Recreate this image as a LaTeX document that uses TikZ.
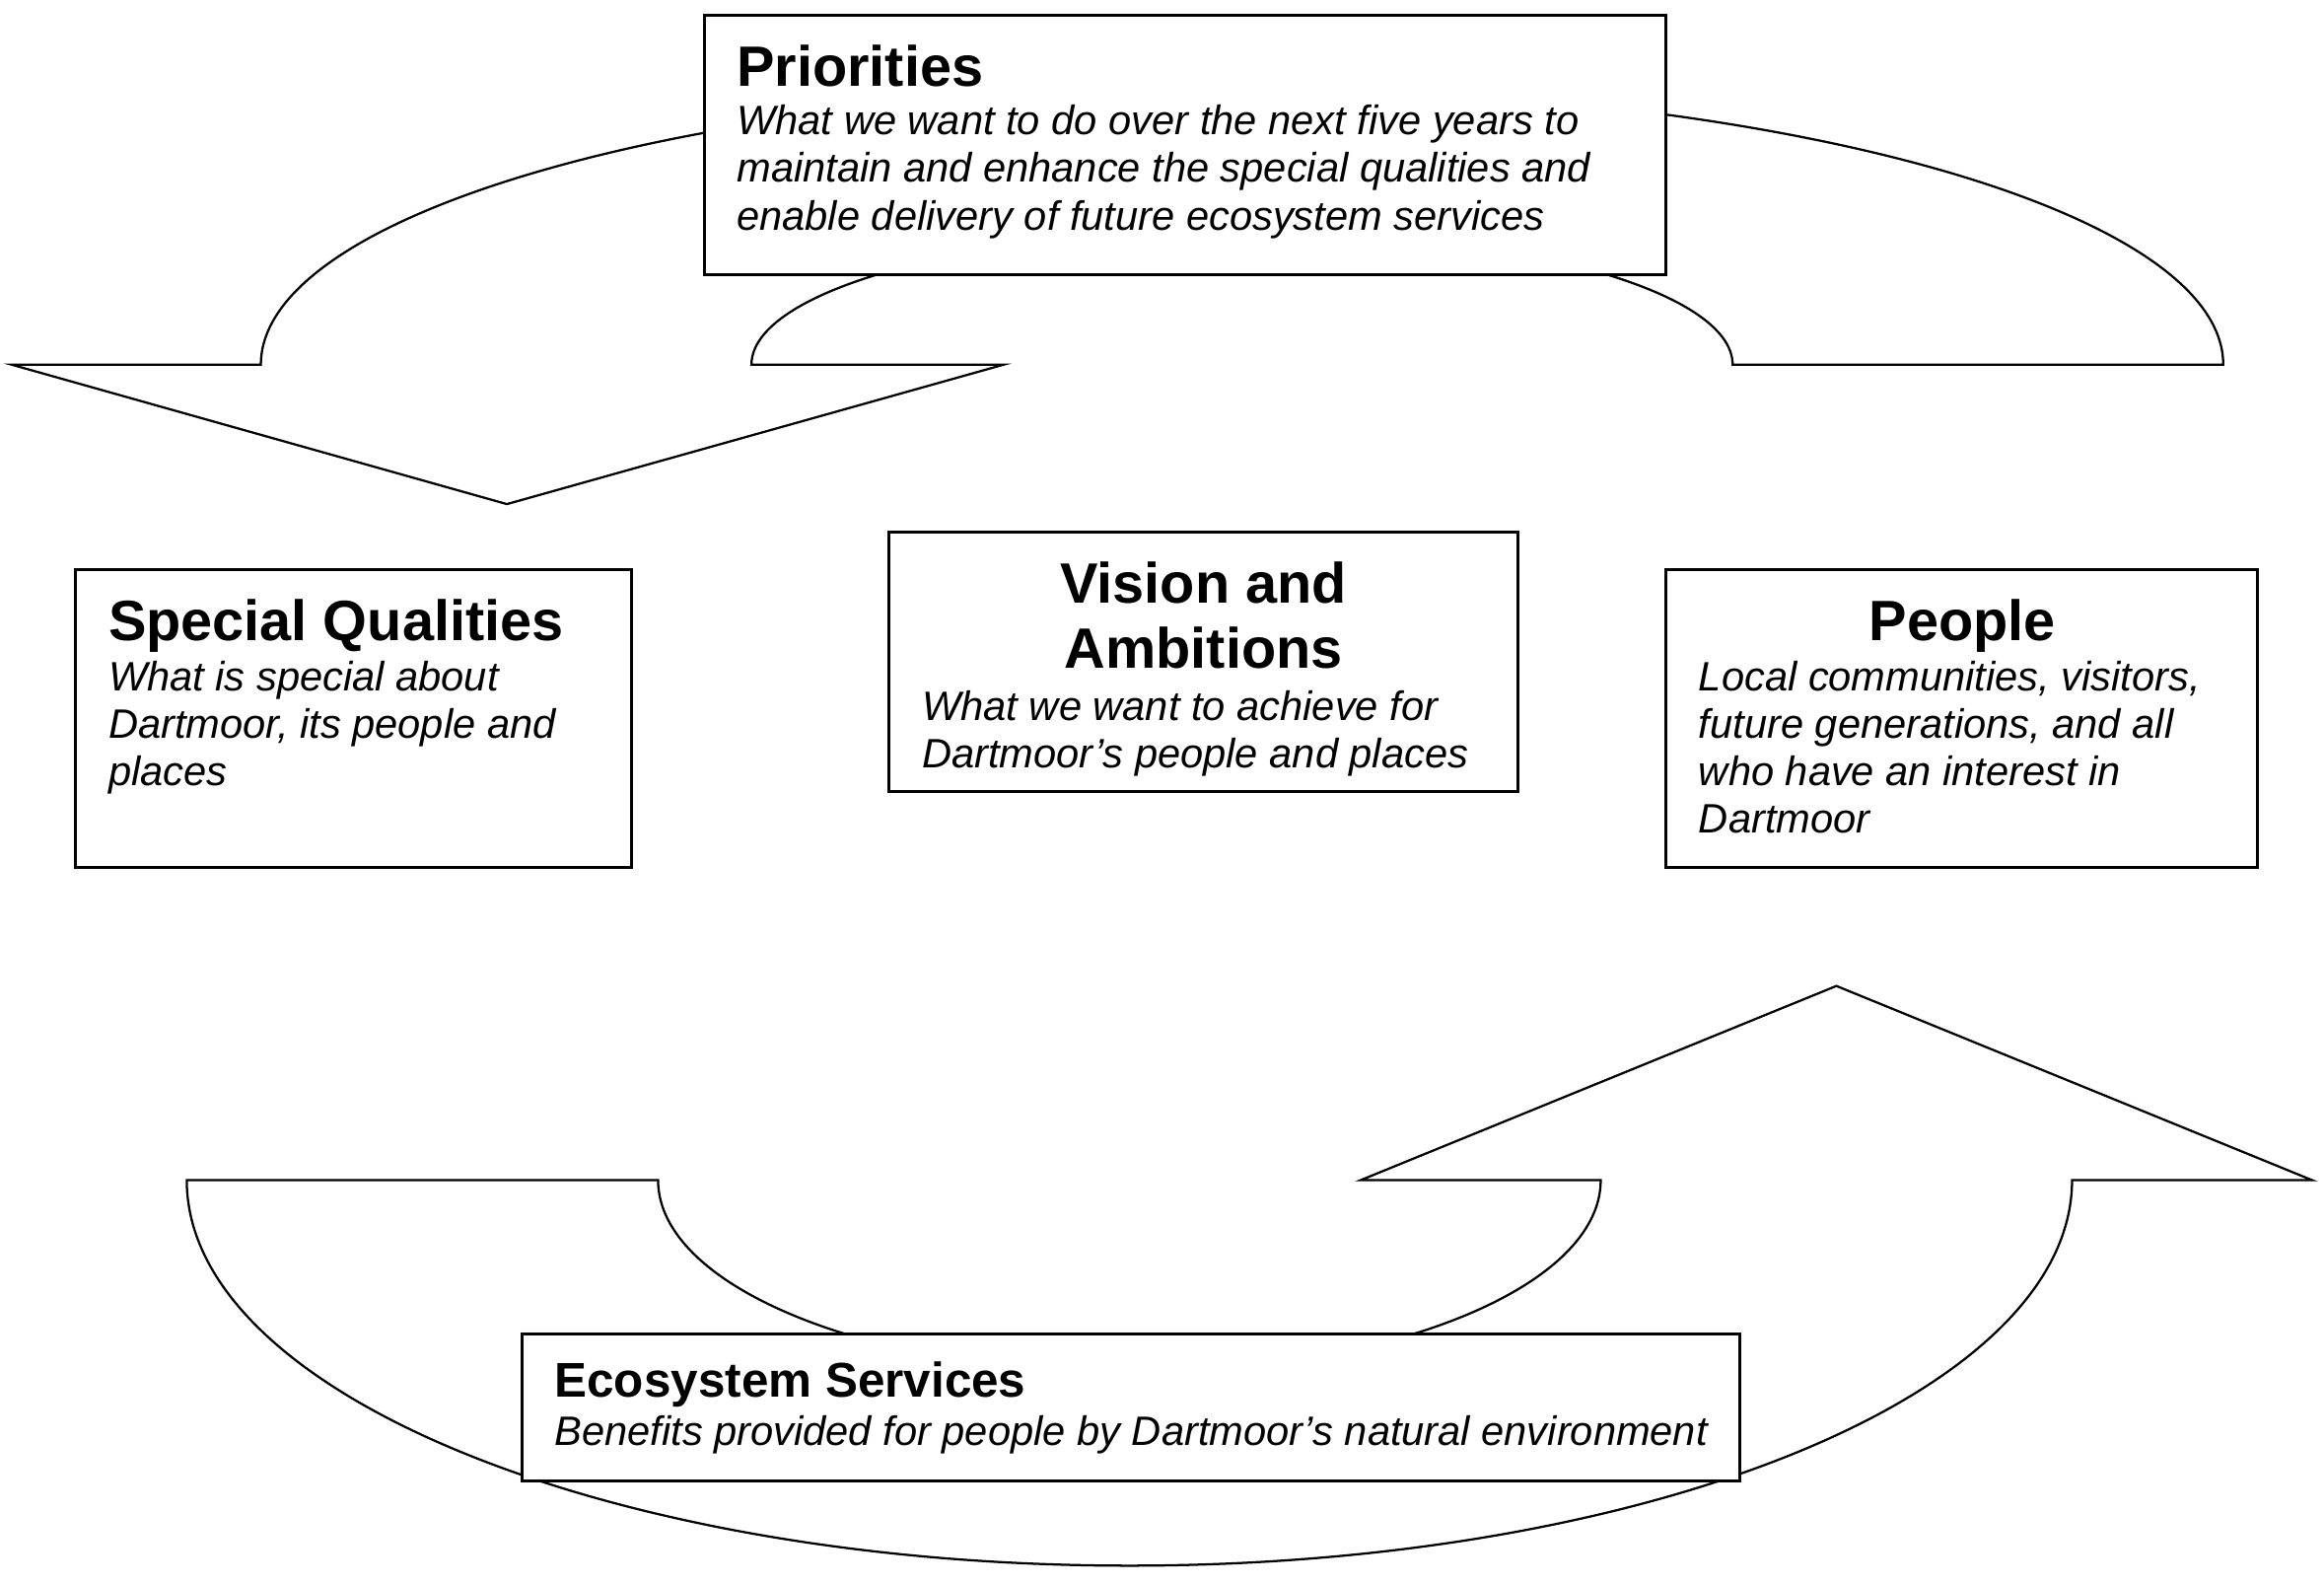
\documentclass[tikz,border=0pt]{standalone}
\usepackage{fontspec}
\setmainfont{Liberation Sans}
\begin{document}
\begin{tikzpicture}[x=1bp,y=-1bp,
  boxstyle/.style={draw, line width=2bp, fill=white, rectangle, inner sep=0pt, outer sep=0pt},
  band/.style={draw, line width=1.5bp, fill=white, line join=miter},
  ttl/.style={font=\bfseries\fontsize{38.5}{44}\selectfont, inner sep=0pt, anchor=base west},
  ttlc/.style={ttl, anchor=base},
  ttls/.style={font=\bfseries\fontsize{33}{38}\selectfont, inner sep=0pt, anchor=base west},
  txt/.style={font=\itshape\fontsize{27.8}{32}\selectfont, inner sep=0pt, anchor=base west}]
\useasboundingbox (0,0) rectangle (1568,1068.4);
% curved band arrows
\draw[band] (1500,246) arc[start angle=0, end angle=-180, x radius=662, y radius=187]
  -- (8,246) -- (342,340) -- (677,246) -- (507,246)
  arc[start angle=180, end angle=360, x radius=331, y radius=91] -- cycle;
\draw[band] (126,796) -- (444,796)
  arc[start angle=180, end angle=0, x radius=318, y radius=130]
  -- (918,796) -- (1239,665) -- (1560,796) -- (1398,796)
  arc[start angle=0, end angle=180, x radius=636, y radius=260] -- cycle;
% boxes
\node[boxstyle, minimum width=649bp, minimum height=175bp] (prio) at (799.5,97.5) {};
\node[boxstyle, minimum width=375bp, minimum height=201bp] (spec) at (238.5,484.5) {};
\node[boxstyle, minimum width=424bp, minimum height=175bp] (vis) at (812,446.5) {};
\node[boxstyle, minimum width=399bp, minimum height=201bp] (peop) at (1323.5,484.5) {};
\node[boxstyle, minimum width=822bp, minimum height=99bp] (eco) at (763,949.5) {};
% Priorities
\node[ttl] (prioT) at (497,58) {Priorities};
\node[txt] (prio1) at (497,91) {What we want to do over the next five years to};
\node[txt] (prio2) at (497,123) {maintain and enhance the special qualities and};
\node[txt] (prio3) at (497,155) {enable delivery of future ecosystem services};
% Special Qualities
\node[ttl] (specT) at (73,432) {Special Qualities};
\node[txt] (spec1) at (73,466) {What is special about};
\node[txt] (spec2) at (73,498) {Dartmoor, its people and};
\node[txt] (spec3) at (73,530) {places};
% Vision
\node[ttlc] (visT1) at (812,407) {Vision and};
\node[ttlc] (visT2) at (812,451) {Ambitions};
\node[txt] (vis1) at (622,486) {What we want to achieve for};
\node[txt] (vis2) at (622,518) {Dartmoor’s people and places};
% People
\node[ttlc] (peopT) at (1324,432) {People};
\node[txt] (peop1) at (1146,466) {Local communities, visitors,};
\node[txt] (peop2) at (1146,498) {future generations, and all};
\node[txt] (peop3) at (1146,530) {who have an interest in};
\node[txt] (peop4) at (1146,562) {Dartmoor};
% Ecosystem Services
\node[ttls] (ecoT) at (374,942) {Ecosystem Services};
\node[txt] (eco1) at (374,975) {Benefits provided for people by Dartmoor’s natural environment};
\end{tikzpicture}
\end{document}
